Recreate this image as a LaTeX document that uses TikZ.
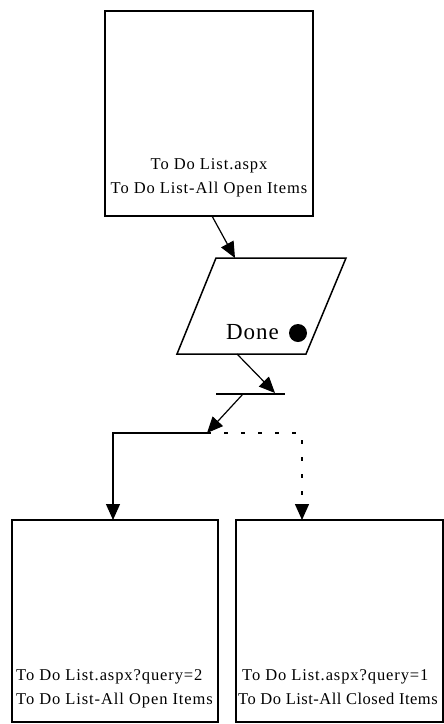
\documentclass[tikz,border=0pt]{standalone}
\usepackage{fontspec}
\setmainfont{Liberation Serif}
\usetikzlibrary{arrows.meta}
\begin{document}
\begin{tikzpicture}[x=1pt,y=-1pt,
  frame/.style={draw=black, line width=1.5pt, inner sep=0pt, outer sep=0pt, anchor=north west},
  lbl/.style={inner sep=0pt, font=\fontsize{16.5}{24}\selectfont\addfontfeatures{LetterSpace=5.5}},
  tip/.style={-{Triangle[length=16pt,width=14pt]}},
  flow/.style={line width=1.2pt, tip},
  optional/.style={line width=1.3pt, dash pattern=on 4pt off 13pt, tip}
]
\useasboundingbox (0,0) rectangle (444,724);

% page boxes
\node[frame, minimum width=208pt, minimum height=205pt] (listpage) at (105,11) {};
\node[frame, minimum width=206pt, minimum height=202pt] (openpage) at (12,520) {};
\node[frame, minimum width=207pt, minimum height=202pt] (closedpage) at (236,520) {};

% captions
\node[lbl, anchor=base] (lp1) at (209,169) {To Do List.aspx};
\node[lbl, anchor=base] (lp2) at (209,193) {To Do List-All Open Items};
\node[lbl, anchor=base west] (op1) at (16,680) {To Do List.aspx?query=2};
\node[lbl, anchor=base west] (op2) at (16,704) {To Do List-All Open Items};
\node[lbl, anchor=base west] (cp1) at (242,680) {To Do List.aspx?query=1};
\node[lbl, anchor=base west, font=\fontsize{16.5}{24}\selectfont\addfontfeatures{LetterSpace=3}] (cp2) at (238,704) {To Do List-All Closed Items};

% input/output parallelogram
\coordinate (ioTL) at (216,258);
\coordinate (ioTR) at (346,258);
\coordinate (ioBR) at (306,354);
\coordinate (ioBL) at (177,354);
\draw[line width=1.5pt] (ioTL) -- (ioTR) -- (ioBR) -- (ioBL) -- cycle;
\node[inner sep=0pt, anchor=base west, font=\fontsize{23}{23}\selectfont\addfontfeatures{LetterSpace=4}] (done) at (226,339) {Done};
\fill (298,333) circle (9pt);

% synchronisation bar
\coordinate (barL) at (216,394);
\coordinate (barR) at (285,394);
\draw[line width=1.6pt] (barL) -- (barR);

% connectors
\coordinate (a1s) at (212,216);
\coordinate (a1e) at (235,258);
\coordinate (a2s) at (237,354);
\coordinate (a2e) at (275,393);
\coordinate (a3s) at (243,394);
\coordinate (split) at (207,433);
\coordinate (leftin) at (113,520);
\coordinate (rightin) at (302,520);

\draw[flow] (a1s) -- (a1e);
\draw[flow] (a2s) -- (a2e);
\draw[flow] (a3s) -- (split);
\draw[flow] (split) -| (leftin);
\draw[optional] (split) -| (rightin);
\end{tikzpicture}
\end{document}
